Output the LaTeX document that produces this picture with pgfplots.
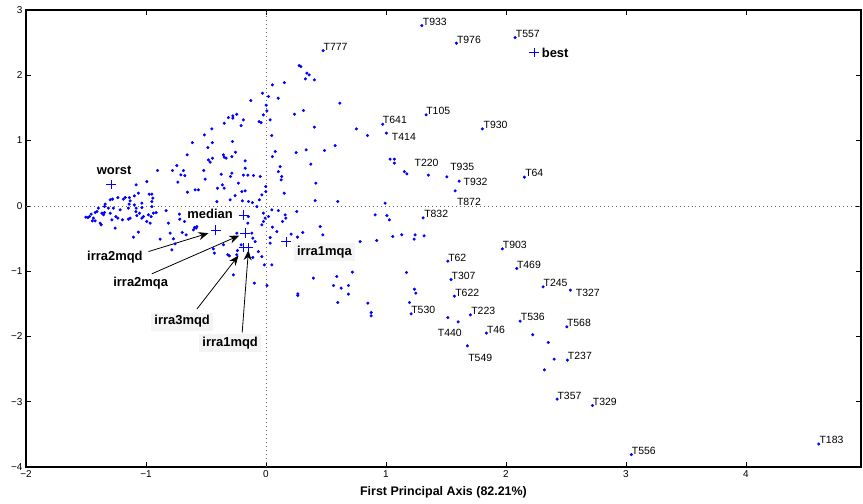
\documentclass[border=0pt]{standalone}
\usepackage{fontspec}
\setmainfont{Liberation Sans}
\usepackage{pgfplots}
\pgfplotsset{compat=1.18}
\usetikzlibrary{arrows.meta}
\newcommand{\tl}{\fontsize{10.5}{12}\selectfont}
\newcommand{\bl}{\bfseries\fontsize{13}{15}\selectfont}
\begin{document}
\begin{tikzpicture}
\begin{axis}[
  scale only axis, width=835bp, height=457bp,
  xmin=-2, xmax=4.96, ymin=-4, ymax=3,
  xtick={-2,-1,0,1,2,3,4}, ytick={-4,-3,-2,-1,0,1,2,3},
  xticklabels={−2,−1,0,1,2,3,4}, yticklabels={−4,−3,−2,−1,0,1,2,3},
  tick align=inside, major tick length=5bp,
  axis line style={line width=1.3pt},
  every tick/.style={black, line width=0.6pt},
  tick label style={font=\fontsize{10}{11}\selectfont},
  xlabel={First Principal Axis (82.21\%)},
  xlabel style={font=\bfseries\fontsize{12.5}{14}\selectfont, yshift=-2bp},
  clip=false,
]
\coordinate (SW) at (rel axis cs:0,0);
\coordinate (NE) at (rel axis cs:1,1);
\addplot[black!60, dash pattern=on 0.8pt off 3.2pt, line width=0.6pt] coordinates {(-2,0) (4.96,0)};
\addplot[black!60, dash pattern=on 0.8pt off 3.2pt, line width=0.6pt] coordinates {(0,-4) (0,3)};
\addplot[only marks, mark=*, blue, mark size=1.35bp, mark options={draw=blue, fill=blue}] coordinates {
(-0.904,0.541) (-0.779,0.541) (-0.743,0.617) (-0.688,0.541) (-0.676,0.464) (-0.734,0.363)
(-0.993,0.372) (-1.082,0.322) (-0.654,0.210) (-0.590,0.245) (-0.563,0.245) (-1.298,0.092)
(-1.279,0.103) (-1.234,0.127) (-1.188,0.103) (-1.173,0.127) (-1.138,0.127) (-1.132,0.077)
(-1.096,0.153) (-1.063,0.194) (-0.973,0.179) (-0.951,0.179) (-0.943,0.118) (-0.951,0.066)
(-1.340,0.026) (-1.346,-0.011) (-1.313,-0.035) (-1.271,-0.035) (-1.215,-0.061) (-1.140,0.026)
(-1.146,-0.035) (-1.096,0.015) (-1.082,-0.035) (-1.034,0.041) (-1.034,-0.026) (-0.951,-0.011)
(-1.396,-0.035) (-1.409,-0.087) (-1.368,-0.112) (-1.423,-0.103) (-1.457,-0.127) (-1.501,-0.173)
(-1.484,-0.179) (-1.471,-0.164) (-1.438,-0.188) (-1.446,-0.230) (-1.423,-0.230) (-1.354,-0.138)
(-1.346,-0.103) (-1.298,-0.112) (-1.251,-0.164) (-1.234,-0.188) (-1.284,-0.214) (-1.382,-0.265)
(-1.373,-0.291) (-1.132,-0.188) (-1.146,-0.204) (-1.084,-0.087) (-1.076,-0.149) (-1.054,-0.112)
(-1.021,-0.164) (-1.034,-0.188) (-0.979,-0.138) (-0.938,-0.112) (-0.915,-0.103) (-0.957,-0.164)
(-0.993,-0.240) (-0.965,-0.265) (-1.196,-0.214) (-1.257,-0.341) (-1.063,-0.403) (-1.104,-0.479)
(-0.832,-0.072) (-0.721,-0.127) (-0.813,-0.265) (-0.798,-0.418) (-0.882,-0.510) (-0.771,-0.505)
(-0.665,-0.444)
(0.021,1.674) (-0.126,1.613) (-0.021,1.394) (0.008,1.455) (0.035,1.317) (-0.057,1.291)
(-0.040,1.276) (-0.188,1.317) (-0.207,1.230) (-0.243,1.404) (-0.276,1.378) (-0.276,1.343)
(-0.313,1.352) (-0.348,1.266) (-0.451,1.179) (-0.513,1.087) (-0.613,0.969) (-0.446,0.969)
(-0.484,0.893) (-0.279,0.985) (0.049,1.077) (0.054,0.755) (-0.254,0.822) (-0.354,0.781)
(-0.348,0.746) (-0.332,0.730) (-0.284,0.755) (-0.446,0.730) (-0.479,0.704) (-0.465,0.669)
(-0.657,0.781) (-0.709,0.475) (-0.518,0.541) (-0.507,0.409) (-0.373,0.485) (-0.284,0.501)
(-0.296,0.449) (-0.173,0.689) (-0.173,0.577) (-0.188,0.470) (-0.151,0.470) (-0.104,0.464)
(-0.048,0.449) (-0.001,0.296) (-0.229,0.348) (-0.363,0.322) (-0.348,0.271) (-0.404,0.271)
(-0.257,0.158) (-0.201,0.219) (-0.173,0.230) (-0.146,0.066) (-0.113,0.051) (-0.196,0.077)
(-0.298,0.092) (-0.409,0.066) (-0.034,0.168) (-0.054,0.092) (-0.001,0.219) (0.049,-0.061)
(-0.021,-0.112) (-0.007,-0.188) (-0.146,-0.164) (-0.243,-0.418) (-0.090,-0.547) (-0.063,-0.700)
(-0.034,-0.776) (-0.013,-0.904) (0.049,-0.904) (-0.238,-0.684) (-0.243,-0.750) (-0.318,-0.750)
(-0.207,-0.597) (-0.109,-0.791) (-0.271,-1.057) (-0.096,-1.184) (-0.438,-0.658) (-0.429,-0.724)
(-0.354,-0.597) (-0.576,-0.317) (-0.582,-0.341) (-0.718,-0.204) (-0.679,-0.240) (-0.784,-0.674)
(-0.604,-0.368) (-0.596,-0.332) (-0.698,-0.408) (-0.757,-0.582) (-0.304,-0.766) (0.008,-1.220)
(0.035,-0.485) (0.266,-1.348) (0.266,-1.373) (-0.021,-0.240) (-0.034,-0.291) (-0.151,-0.265)
(-0.118,-0.418) (-0.109,-0.495) (0.077,0.832) (0.118,0.602) (0.104,0.525) (0.132,0.449)
(0.152,0.194) (-0.076,-0.011)
(0.252,0.816) (0.335,0.858) (0.488,0.847) (0.127,0.398) (0.374,0.639) (0.416,0.348)
(0.410,0.081) (0.599,0.066) (1.035,0.715) (1.071,0.715) (1.071,0.654) (1.154,0.525)
(0.993,0.041) (0.104,-0.072) (0.257,-0.087) (0.021,-0.164) (0.160,-0.138) (0.166,-0.188)
(0.138,-0.240) (0.054,-0.326) (0.091,-0.394) (0.210,-0.434) (0.307,-0.408) (0.263,-0.479)
(0.035,-0.571) (0.452,-0.317) (0.474,-0.444) (0.910,-0.138) (1.008,-0.149) (1.029,-0.214)
(1.132,-0.444) (1.057,-0.470) (0.924,-0.531) (0.785,-0.547) (0.396,-1.107) (0.590,-1.082)
(0.721,-1.015) (0.563,-1.220) (0.627,-1.261) (0.688,-1.220)
(1.174,0.490) (1.354,0.470) (1.508,0.444) (1.610,0.378) (1.577,0.230) (2.154,0.439)
(1.310,-0.184) (1.243,-0.444) (1.235,-0.510) (1.318,-0.459) (1.971,-0.658) (1.516,-0.847)
(1.171,-1.021) (2.091,-0.960) (1.543,-1.129) (1.238,-1.276) (1.249,-1.337) (1.571,-1.383)
(1.196,-1.481) (1.210,-1.654) (1.704,-1.669) (1.516,-1.711) (1.602,-1.776) (1.838,-1.949)
(2.118,-1.766) (2.224,-1.975) (2.354,-2.093) (1.679,-2.144) (0.849,-1.490) (0.877,-1.634)
(0.877,-1.685) (0.688,-1.352) (0.599,-1.481)
(2.402,-2.348) (2.321,-2.511) (2.310,-1.240) (2.538,-1.291) (2.508,-1.853) (2.513,-2.363)
(2.427,-2.960) (2.721,-3.058) (3.046,-3.809) (4.608,-3.649)
(1.299,2.761) (1.588,2.492) (2.077,2.577) (0.477,2.378) (0.277,2.149) (0.291,2.133)
(0.341,2.032) (0.360,2.006) (0.329,1.945) (0.404,1.930) (0.154,1.888) (0.054,1.853)
(-0.029,1.726) (0.102,1.649) (0.002,1.542) (0.238,1.404) (0.313,1.459) (0.616,1.573)
(0.404,1.205) (0.754,1.179) (0.846,1.077) (0.974,1.251) (1.004,1.113) (1.335,1.394)
(1.804,1.179) (0.577,0.923)
};
\addplot[only marks, mark=+, blue, mark size=4.8bp, mark options={line width=0.7pt}] coordinates {
(-1.29,0.33) (2.235,2.35) (-0.1875,-0.138) (-0.418,-0.368) (-0.173,-0.418)
(-0.1875,-0.636) (-0.146,-0.636) (0.166,-0.55)
};
% T labels
\begin{scope}[every node/.style={anchor=west, inner sep=0pt, font=\tl}]
\node at (axis cs:1.307,2.813) {T933};
\node at (axis cs:1.591,2.542) {T976};
\node at (axis cs:2.082,2.634) {T557};
\node at (axis cs:0.479,2.435) {T777};
\node at (axis cs:1.335,1.455) {T105};
\node at (axis cs:0.974,1.312) {T641};
\node at (axis cs:1.049,1.061) {T414};
\node at (axis cs:1.813,1.236) {T930};
\node at (axis cs:1.238,0.654) {T220};
\node at (axis cs:1.535,0.602) {T935};
\node at (axis cs:1.646,0.363) {T932};
\node at (axis cs:1.591,0.057) {T872};
\node at (axis cs:2.160,0.501) {T64};
\node at (axis cs:1.318,-0.127) {T832};
\node at (axis cs:1.974,-0.602) {T903};
\node at (axis cs:1.518,-0.796) {T62};
\node at (axis cs:2.091,-0.908) {T469};
\node at (axis cs:1.546,-1.072) {T307};
\node at (axis cs:1.577,-1.332) {T622};
\node at (axis cs:1.210,-1.597) {T530};
\node at (axis cs:1.710,-1.613) {T223};
\node at (axis cs:2.124,-1.705) {T536};
\node at (axis cs:1.432,-1.949) {T440};
\node at (axis cs:1.841,-1.899) {T46};
\node at (axis cs:1.685,-2.328) {T549};
\node at (axis cs:2.313,-1.184) {T245};
\node at (axis cs:2.582,-1.332) {T327};
\node at (axis cs:2.508,-1.797) {T568};
\node at (axis cs:2.516,-2.297) {T237};
\node at (axis cs:2.429,-2.910) {T357};
\node at (axis cs:2.724,-3.002) {T329};
\node at (axis cs:3.049,-3.752) {T556};
\node at (axis cs:4.613,-3.588) {T183};
\end{scope}
% bold labels
\node[font=\bl, inner sep=0pt] at (axis cs:-1.265,0.541) {worst};
\node[font=\bl, inner sep=0pt, anchor=west] at (axis cs:2.298,2.348) {best};
\node[font=\bl, inner sep=0pt] at (axis cs:-0.465,-0.127) {median};
\node[font=\bl, inner sep=0pt] at (axis cs:-1.259,-0.786) {irra2mqd};
\node[font=\bl, inner sep=0pt] at (axis cs:-1.044,-1.184) {irra2mqa};
\node[font=\bl, inner sep=3bp, fill=gray!9] at (axis cs:-0.698,-1.772) {irra3mqd};
\node[font=\bl, inner sep=3bp, fill=gray!9] at (axis cs:-0.298,-2.103) {irra1mqd};
\node[font=\bl, inner sep=3bp, fill=gray!9] at (axis cs:0.487,-0.709) {irra1mqa};
% arrows
\begin{scope}[line width=0.8pt, -{Stealth[length=10bp, width=8bp]}]
\draw (axis cs:-0.979,-0.700) -- (axis cs:-0.479,-0.418);
\draw (axis cs:-0.951,-1.041) -- (axis cs:-0.223,-0.455);
\draw (axis cs:-0.576,-1.582) -- (axis cs:-0.229,-0.761);
\draw (axis cs:-0.198,-1.940) -- (axis cs:-0.146,-0.68);
\end{scope}
\end{axis}
\pgfresetboundingbox
\useasboundingbox ([shift={(-26bp,-37bp)}]SW) rectangle ([shift={(2bp,10bp)}]NE);
\end{tikzpicture}
\end{document}
